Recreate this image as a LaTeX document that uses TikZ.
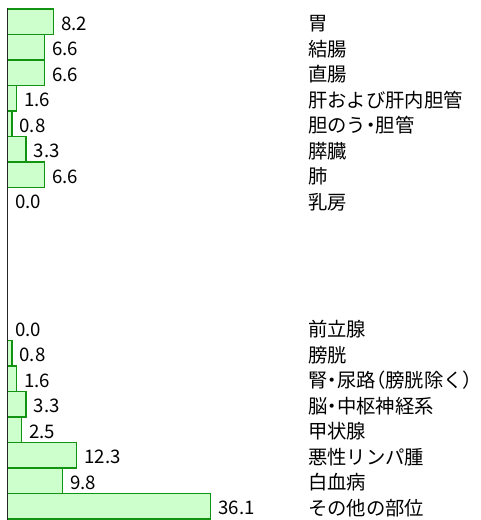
\documentclass[tikz,border=0pt]{standalone}
\usepackage{fontspec}
\setmainfont{Noto Sans CJK JP}
\newfontfamily\pfont[RawFeature=+palt]{Noto Sans CJK JP}
\definecolor{barfill}{HTML}{CCFFCC}
\definecolor{barline}{HTML}{129412}
\begin{document}
\begin{tikzpicture}[x=0.75pt,y=-0.75pt,
  barbox/.style={draw=barline,fill=barfill,line width=1.1pt},
  axisline/.style={draw=black!85,line width=0.8pt},
  valtext/.style={anchor=base west,inner sep=0pt,font=\fontsize{14}{16}\selectfont},
  labtext/.style={anchor=base west,inner sep=0pt,font=\fontsize{14.5}{17}\selectfont}]
\useasboundingbox (0,0) rectangle (480,520);
\foreach \i/\v/\t in {0/8.2/胃,1/6.6/結腸,2/6.6/直腸,3/1.6/肝および肝内胆管,4/0.8/胆のう{\pfont ・}胆管,5/3.3/膵臓,6/6.6/肺,7/0.0/乳房,12/0.0/前立腺,13/0.8/膀胱,14/1.6/腎{\pfont ・}尿路{\pfont （}膀胱除く{\pfont ）},15/3.3/脳{\pfont ・}中枢神経系,16/2.5/甲状腺,17/12.3/悪性リンパ腫,18/9.8/白血病,19/36.1/その他の部位}{
  \pgfmathsetmacro{\top}{9+25.5*\i}
  \pgfmathsetmacro{\bot}{\top+25.5}
  \pgfmathsetmacro{\xe}{7.3+5.63*\v}
  \pgfmathsetmacro{\yb}{\top+12.75+8.5}
  \ifdim \v pt>0pt
    \path[barbox] (7.3,\top) rectangle (\xe,\bot);
  \fi
  \node[valtext] (v\i) at (\xe+7.5,\yb) {\v};
  \node[labtext] (l\i) at (308,\yb+0.3) {\t};
}
\draw[axisline] (7.3,8) -- (7.3,520);
\end{tikzpicture}
\end{document}
